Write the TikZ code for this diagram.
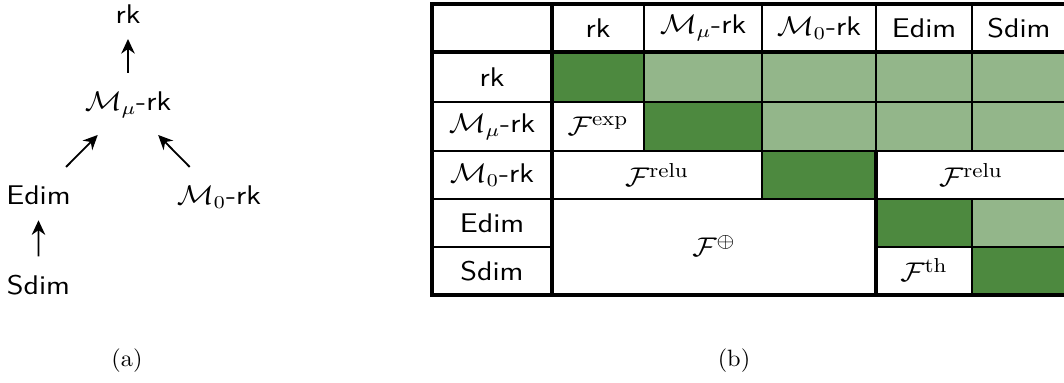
\documentclass[tikz,border=0pt]{standalone}
\usetikzlibrary{arrows.meta}
\definecolor{diaggreen}{RGB}{77,137,63}
\definecolor{uppergreen}{RGB}{147,182,138}
\begin{document}
\begin{tikzpicture}[x=0.4444pt, y=-0.4444pt,
		txt/.style={font=\fontsize{12}{14}\selectfont\sffamily, xscale=1.14, inner sep=0pt},
		mtxt/.style={font=\fontsize{12.5}{14}\selectfont, xscale=1.1, inner sep=0pt},
		captxt/.style={font=\fontsize{10.5}{12}\selectfont, xscale=1.03, inner sep=0pt},
		dep/.style={-{Stealth[length=6.5pt, width=6pt]}, line width=0.8pt, shorten <=8pt, shorten >=6.9pt},
		side/.style={dep, shorten <=11.2pt, shorten >=10.6pt},
		gridline/.style={line width=0.5pt},
		blockline/.style={line width=0.9pt},
		frameline/.style={line width=1.35pt}]
	\useasboundingbox (0, 0) rectangle (1064, 382);
	% Graph nodes
	\node [txt, anchor=base] (g-rk) at (128, 23) {rk};
	\node [txt, anchor=base] (g-mu) at (128, 110) {$\mathcal{M}_\mu$-rk};
	\node [txt, anchor=base] (g-edim) at (38.5, 204) {Edim};
	\node [txt, anchor=base] (g-zero) at (219, 204) {$\mathcal{M}_0$-rk};
	\node [txt, anchor=base] (g-sdim) at (38.5, 294) {Sdim};
	% Graph arrows
	\draw [dep] (g-mu) -- (g-rk);
	\draw [dep] (g-sdim) -- (g-edim);
	\draw [side] (g-edim) -- (g-mu);
	\draw [side] (g-zero) -- (g-mu);
	% Table fills
	\fill [diaggreen] (552, 52) rectangle (644, 102);
	\fill [diaggreen] (644, 102) rectangle (762, 151);
	\fill [diaggreen] (762, 151) rectangle (876, 199);
	\fill [diaggreen] (876, 199) rectangle (972, 247);
	\fill [diaggreen] (972, 247) rectangle (1066, 295);
	\fill [uppergreen] (644, 52) rectangle (1066, 102);
	\fill [uppergreen] (762, 102) rectangle (1066, 151);
	\fill [uppergreen] (972, 199) rectangle (1066, 247);
	% Thin grid lines
	\foreach \x in {644, 762, 972}
		\draw [gridline] (\x, 4) -- (\x, 52);
	\draw [gridline] (644, 52) -- (644, 151);
	\draw [gridline] (762, 52) -- (762, 199);
	\draw [gridline] (876, 52) -- (876, 151);
	\draw [gridline] (972, 52) -- (972, 151);
	\draw [gridline] (972, 199) -- (972, 295);
	\draw [gridline] (552, 102) -- (1066, 102);
	\draw [gridline] (552, 151) -- (1066, 151);
	% Block lines
	\foreach \y in {102, 151, 199, 247}
		\draw [blockline] (432, \y) -- (552, \y);
	\draw [blockline] (552, 199) -- (1066, 199);
	\draw [blockline] (876, 247) -- (1066, 247);
	\draw [blockline] (876, 4) -- (876, 52);
	\draw [frameline] (876, 151) -- (876, 295);
	% Frame
	\draw [frameline] (432, 4) rectangle (1066, 295);
	\draw [frameline] (552, 4) -- (552, 295);
	\draw [frameline] (432, 52) -- (1066, 52);
	% Header texts
	\foreach \t/\x [count=\c] in {rk/598, {$\mathcal{M}_\mu$-rk}/703, {$\mathcal{M}_0$-rk}/819, Edim/924, Sdim/1019}
		\node [txt] (head-\c) at (\x, 28) {\t};
	\foreach \t/\y [count=\c] in {rk/77, {$\mathcal{M}_\mu$-rk}/126.5, {$\mathcal{M}_0$-rk}/175, Edim/223, Sdim/271}
		\node [txt] (row-\c) at (492, \y) {\t};
	% Cell texts
	\node [mtxt] (f-exp) at (598, 126.5) {$\mathcal{F}^{\mathrm{exp}}$};
	\node [mtxt] (f-relu-1) at (657, 175) {$\mathcal{F}^{\mathrm{relu}}$};
	\node [mtxt] (f-relu-2) at (971, 175) {$\mathcal{F}^{\mathrm{relu}}$};
	\node [mtxt] (f-sum) at (714, 246) {$\mathcal{F}^{\oplus}$};
	\node [mtxt] (f-th) at (924, 270) {$\mathcal{F}^{\mathrm{th}}$};
	% Captions
	\node [captxt] (cap-a) at (127, 361) {(a)};
	\node [captxt] (cap-b) at (734, 361) {(b)};
\end{tikzpicture}
\end{document}
